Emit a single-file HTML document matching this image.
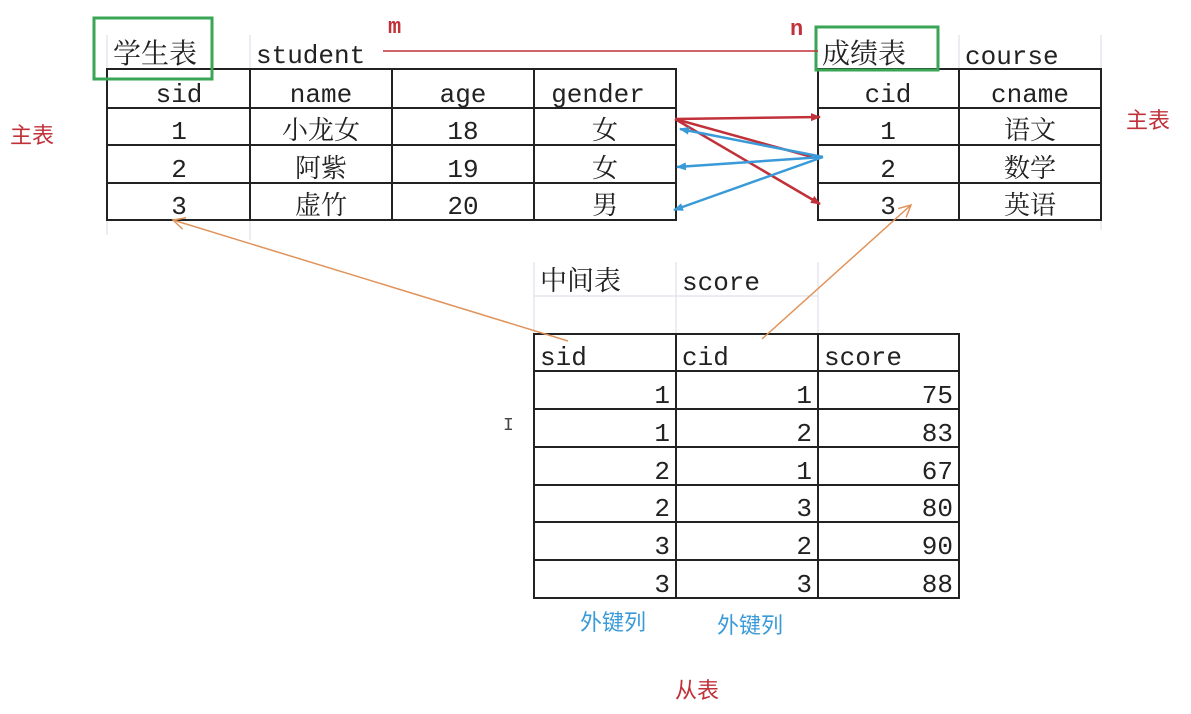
<!DOCTYPE html>
<html><head><meta charset="utf-8"><style>
body{margin:0;background:#fff;}
svg text{font-family:"Liberation Mono","Noto Serif CJK SC",monospace;font-size:26px;fill:#222;}
.c{text-anchor:middle}.r{text-anchor:end}
.lbl{font-family:"Liberation Sans","Noto Sans CJK SC",sans-serif;font-size:22px}
</style></head><body>
<svg width="1191" height="709" viewBox="0 0 1191 709" xmlns="http://www.w3.org/2000/svg">
<defs>
<marker id="ar" markerWidth="10" markerHeight="10" refX="9" refY="5" orient="auto" markerUnits="userSpaceOnUse"><path d="M0,1 L10,5 L0,9 z" fill="#c0313a"/></marker>
<marker id="ab" markerWidth="10" markerHeight="10" refX="9" refY="5" orient="auto" markerUnits="userSpaceOnUse"><path d="M0,1 L10,5 L0,9 z" fill="#3a9ad8"/></marker>
<marker id="ao" markerWidth="14" markerHeight="14" refX="12" refY="7" orient="auto" markerUnits="userSpaceOnUse"><path d="M0,1 L12,7 L0,13" fill="none" stroke="#e0935a" stroke-width="1.5"/></marker>
</defs>
<g stroke="#d8dbe6" stroke-width="1">
<line x1="107" y1="35" x2="107" y2="235"/><line x1="250" y1="35" x2="250" y2="240"/>
<line x1="959" y1="35" x2="959" y2="69"/><line x1="1101" y1="35" x2="1101" y2="230"/>
<line x1="534" y1="262" x2="534" y2="334"/><line x1="676" y1="262" x2="676" y2="334"/><line x1="818" y1="262" x2="818" y2="334"/>
<line x1="534" y1="296" x2="818" y2="296"/>
</g>
<g stroke="#222" stroke-width="2" fill="none">
<rect x="107" y="69" width="569" height="151"/>
<line x1="107" y1="108" x2="676" y2="108"/><line x1="107" y1="145" x2="676" y2="145"/><line x1="107" y1="183" x2="676" y2="183"/>
<line x1="250" y1="69" x2="250" y2="220"/><line x1="392" y1="69" x2="392" y2="220"/><line x1="534" y1="69" x2="534" y2="220"/>
<rect x="818" y="69" width="283" height="151"/>
<line x1="818" y1="108" x2="1101" y2="108"/><line x1="818" y1="145" x2="1101" y2="145"/><line x1="818" y1="183" x2="1101" y2="183"/>
<line x1="959" y1="69" x2="959" y2="220"/>
<rect x="534" y="334" width="425" height="264"/>
<line x1="534" y1="371" x2="959" y2="371"/><line x1="534" y1="409" x2="959" y2="409"/><line x1="534" y1="447" x2="959" y2="447"/>
<line x1="534" y1="485" x2="959" y2="485"/><line x1="534" y1="522" x2="959" y2="522"/><line x1="534" y1="560" x2="959" y2="560"/>
<line x1="676" y1="334" x2="676" y2="598"/><line x1="818" y1="334" x2="818" y2="598"/>
</g>
<rect x="94" y="18" width="118" height="61" fill="none" stroke="#3aa655" stroke-width="3"/>
<rect x="816" y="27" width="122" height="43" fill="none" stroke="#3aa655" stroke-width="3"/>
<text x="113" y="63" style="font-size:28px">学生表</text>
<text x="256" y="63">student</text>
<text x="822" y="63" style="font-size:28px">成绩表</text>
<text x="965" y="64">course</text>
<text x="540" y="290" style="font-size:27px">中间表</text>
<text x="682" y="290">score</text>
<line x1="383" y1="51" x2="818" y2="51" stroke="#c0313a" stroke-width="1.5"/>
<text x="388" y="33" style="fill:#c0313a;font-weight:bold;font-size:22px">m</text>
<text x="790" y="35" style="fill:#c0313a;font-weight:bold;font-size:22px">n</text>
<g>
<text class="c" x="179" y="102">sid</text><text class="c" x="321" y="102">name</text><text class="c" x="463" y="102">age</text><text class="c" x="598" y="102">gender</text>
<text class="c" x="179" y="139">1</text><text class="c" x="321" y="139">小龙女</text><text class="c" x="463" y="139">18</text><text class="c" x="605" y="139">女</text>
<text class="c" x="179" y="177">2</text><text class="c" x="321" y="177">阿紫</text><text class="c" x="463" y="177">19</text><text class="c" x="605" y="177">女</text>
<text class="c" x="179" y="214">3</text><text class="c" x="321" y="214">虚竹</text><text class="c" x="463" y="214">20</text><text class="c" x="605" y="214">男</text>
<text class="c" x="888" y="102">cid</text><text class="c" x="1030" y="102">cname</text>
<text class="c" x="888" y="139">1</text><text class="c" x="1030" y="139">语文</text>
<text class="c" x="888" y="177">2</text><text class="c" x="1030" y="177">数学</text>
<text class="c" x="888" y="214">3</text><text class="c" x="1030" y="214">英语</text>
</g>
<text x="540" y="365">sid</text><text x="682" y="365">cid</text><text x="824" y="365">score</text>
<g>
<text class="r" x="670" y="403">1</text><text class="r" x="812" y="403">1</text><text class="r" x="953" y="403">75</text>
<text class="r" x="670" y="441">1</text><text class="r" x="812" y="441">2</text><text class="r" x="953" y="441">83</text>
<text class="r" x="670" y="479">2</text><text class="r" x="812" y="479">1</text><text class="r" x="953" y="479">67</text>
<text class="r" x="670" y="516">2</text><text class="r" x="812" y="516">3</text><text class="r" x="953" y="516">80</text>
<text class="r" x="670" y="554">3</text><text class="r" x="812" y="554">2</text><text class="r" x="953" y="554">90</text>
<text class="r" x="670" y="592">3</text><text class="r" x="812" y="592">3</text><text class="r" x="953" y="592">88</text>
</g>
<g stroke="#c0313a" stroke-width="2.5" fill="none">
<line x1="675" y1="119" x2="820" y2="117" marker-end="url(#ar)"/>
<line x1="675" y1="119" x2="812" y2="157"/>
<line x1="675" y1="119" x2="820" y2="204" marker-end="url(#ar)"/>
</g>
<g stroke="#3a9ad8" stroke-width="2.5" fill="none">
<line x1="823" y1="157" x2="680" y2="129" marker-end="url(#ab)"/>
<line x1="823" y1="157" x2="677" y2="167" marker-end="url(#ab)"/>
<line x1="823" y1="157" x2="674" y2="210" marker-end="url(#ab)"/>
</g>
<g stroke="#e0935a" stroke-width="1.5" fill="none">
<line x1="568" y1="341" x2="173" y2="220" marker-end="url(#ao)"/>
<line x1="762" y1="339" x2="911" y2="205" marker-end="url(#ao)"/>
</g>
<text x="503" y="430" style="font-size:18px;fill:#444">I</text>
<text class="lbl" x="10" y="143" style="fill:#c0313a">主表</text>
<text class="lbl" x="1126" y="128" style="fill:#c0313a">主表</text>
<text class="lbl" x="580" y="630" style="fill:#3a9ad8">外键列</text>
<text class="lbl" x="717" y="633" style="fill:#3a9ad8">外键列</text>
<text class="lbl" x="675" y="698" style="fill:#c0313a">从表</text>
</svg>
</body></html>
